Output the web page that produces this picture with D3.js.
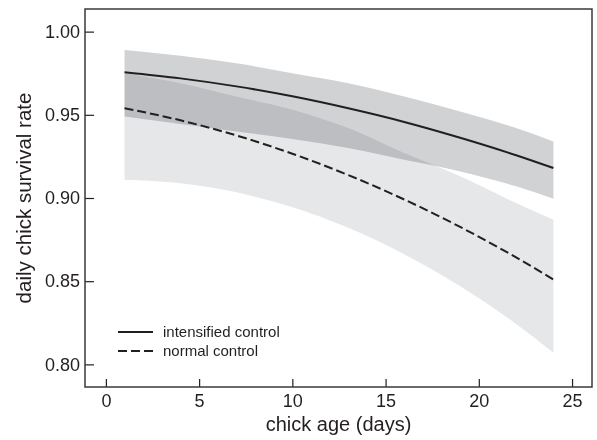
<!DOCTYPE html>
<html>
<head>
<meta charset="utf-8">
<script src="https://cdn.jsdelivr.net/npm/d3@7"></script>
<style>
  body { margin: 0; background: #fff; }
  svg text { font-family: "Liberation Sans", Arial, sans-serif; fill: #231f20; }
</style>
</head>
<body>
<div id="chart"></div>
<script>
// chick age (days) at which the model curves were read
var days = [1, 4, 7, 10, 13, 16, 19, 22, 24];

// intensified control: fitted survival and confidence band
var intMean  = [0.9756, 0.9719, 0.9671, 0.9611, 0.9539, 0.9457, 0.9362, 0.9257, 0.918];
var intUpper = [0.989, 0.9855, 0.981, 0.975, 0.969, 0.961, 0.952, 0.942, 0.934];
var intLower = [0.949, 0.9445, 0.940, 0.9355, 0.930, 0.923, 0.916, 0.907, 0.8995];

// normal control
var normMean  = [0.954, 0.9467, 0.9376, 0.9266, 0.9138, 0.8991, 0.8826, 0.8643, 0.851];
var normUpper = [0.975, 0.969, 0.961, 0.953, 0.942, 0.927, 0.913, 0.897, 0.887];
var normLower = [0.911, 0.9089, 0.9034, 0.8945, 0.8821, 0.8662, 0.847, 0.8243, 0.807];

var xTicks = [0, 5, 10, 15, 20, 25];
var yTicks = [0.80, 0.85, 0.90, 0.95, 1.00];
var legendLabels = ["intensified control", "normal control"];

var svgWidth = 597;
var svgHeight = 440;
var margin = { top: 9, right: 5, bottom: 53, left: 85 };
var chartWidth = svgWidth - margin.left - margin.right;
var chartHeight = svgHeight - margin.top - margin.bottom;

var svg = d3.select("#chart")
  .append("svg")
  .attr("width", svgWidth)
  .attr("height", svgHeight);

var chartGroup = svg.append("g")
  .attr("transform", `translate(${margin.left}, ${margin.top})`);

var xScale = d3.scaleLinear()
  .domain([-1.12, 26.07])
  .range([0, chartWidth]);

var yScale = d3.scaleLinear()
  .domain([0.7864, 1.0136])
  .range([chartHeight, 0]);

function band(upper, lower) {
  return days.map((d, i) => ({ day: d, hi: upper[i], lo: lower[i] }));
}
function series(vals) {
  return days.map((d, i) => ({ day: d, v: vals[i] }));
}

var area = d3.area()
  .x(d => xScale(d.day))
  .y0(d => yScale(d.lo))
  .y1(d => yScale(d.hi))
  .curve(d3.curveMonotoneX);

var line = d3.line()
  .x(d => xScale(d.day))
  .y(d => yScale(d.v))
  .curve(d3.curveMonotoneX);

// bands: normal first, intensified multiplied on top so the overlap darkens
chartGroup.append("path")
  .datum(band(normUpper, normLower))
  .attr("d", area)
  .attr("fill", "#e6e7e8");

chartGroup.append("path")
  .datum(band(intUpper, intLower))
  .attr("d", area)
  .attr("fill", "#d1d2d4")
  .style("mix-blend-mode", "multiply");

chartGroup.append("path")
  .datum(series(intMean))
  .attr("d", line)
  .attr("fill", "none")
  .attr("stroke", "#231f20")
  .attr("stroke-width", 2);

chartGroup.append("path")
  .datum(series(normMean))
  .attr("d", line)
  .attr("fill", "none")
  .attr("stroke", "#231f20")
  .attr("stroke-width", 2)
  .attr("stroke-dasharray", "9,4");

// axes with inward ticks
var leftAxis = d3.axisRight(yScale)
  .tickValues(yTicks)
  .tickSize(9)
  .tickFormat(d3.format(".2f"));
var bottomAxis = d3.axisTop(xScale)
  .tickValues(xTicks)
  .tickSize(8)
  .tickFormat(d3.format("d"));

var yAxisG = chartGroup.append("g").call(leftAxis);
yAxisG.select(".domain").remove();
yAxisG.selectAll("line").attr("stroke", "#231f20").attr("stroke-width", 1.2);
yAxisG.selectAll("text")
  .attr("x", -5)
  .attr("text-anchor", "end")
  .attr("font-size", 18)
  .attr("fill", "#231f20");

var xAxisG = chartGroup.append("g")
  .attr("transform", `translate(0, ${chartHeight})`)
  .call(bottomAxis);
xAxisG.select(".domain").remove();
xAxisG.selectAll("line").attr("stroke", "#231f20").attr("stroke-width", 1.2);
xAxisG.selectAll("text")
  .attr("y", 20)
  .attr("dy", 0)
  .attr("font-size", 18)
  .attr("fill", "#231f20");

// frame
chartGroup.append("rect")
  .attr("width", chartWidth)
  .attr("height", chartHeight)
  .attr("fill", "none")
  .attr("stroke", "#3a3a3a")
  .attr("stroke-width", 1.5);

// axis titles
chartGroup.append("text")
  .attr("transform", "rotate(-90)")
  .attr("x", -chartHeight / 2)
  .attr("y", -margin.left + 31)
  .attr("text-anchor", "middle")
  .attr("font-size", 20.5)
  .text("daily chick survival rate");

chartGroup.append("text")
  .attr("x", chartWidth / 2)
  .attr("y", chartHeight + 44)
  .attr("text-anchor", "middle")
  .attr("font-size", 20)
  .text("chick age (days)");

// legend
var legend = chartGroup.append("g")
  .attr("transform", `translate(${118 - margin.left}, ${332 - margin.top})`);

legend.selectAll("line")
  .data(legendLabels)
  .enter().append("line")
    .attr("x1", 0)
    .attr("x2", 35)
    .attr("y1", (d, i) => i * 19)
    .attr("y2", (d, i) => i * 19)
    .attr("stroke", "#231f20")
    .attr("stroke-width", 2)
    .attr("stroke-dasharray", (d, i) => i ? "9,4" : null);

legend.selectAll("text")
  .data(legendLabels)
  .enter().append("text")
    .attr("x", 45)
    .attr("y", (d, i) => i * 19)
    .attr("dy", "0.35em")
    .attr("font-size", 15)
    .text(d => d);
</script>
</body>
</html>
